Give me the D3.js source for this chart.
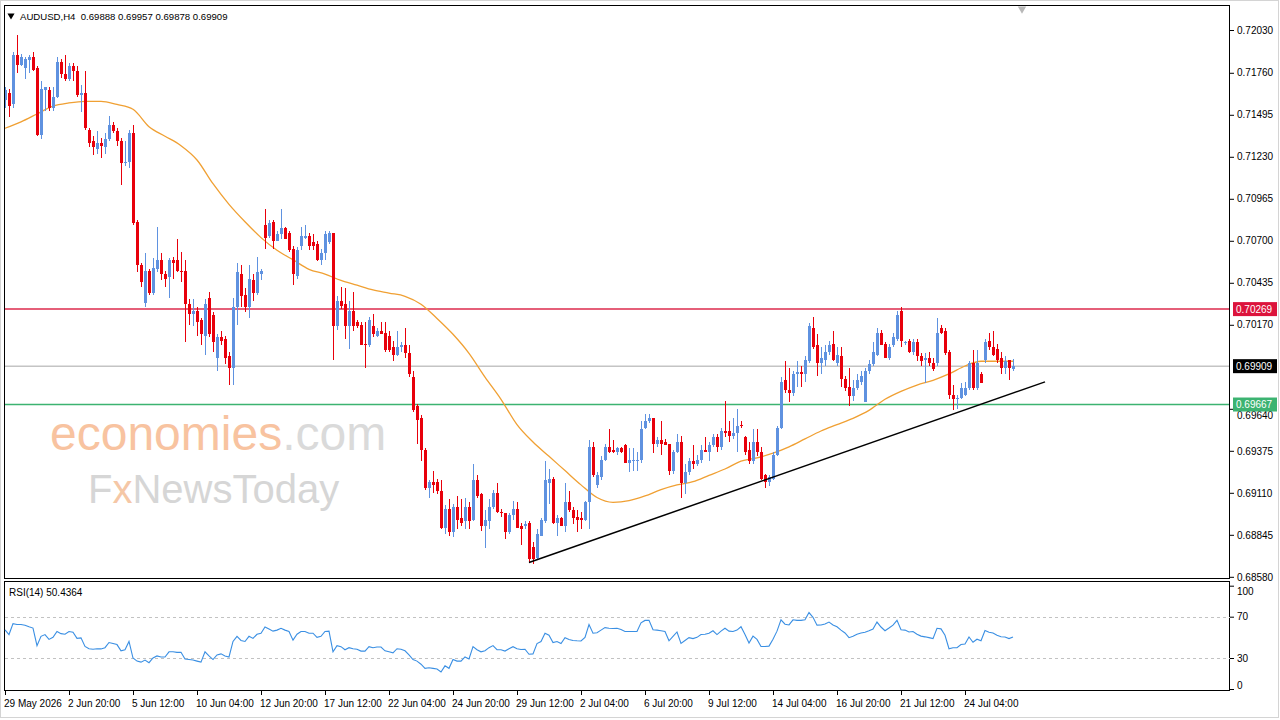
<!DOCTYPE html>
<html><head><meta charset="utf-8">
<script src="https://cdn.jsdelivr.net/npm/d3@7"></script>
<style>
body{margin:0;background:#fff;}
svg text{font-family:"Liberation Sans",Arial,sans-serif;}
</style>
</head><body>
<svg id="chart" width="1280" height="720"></svg>
<script>
// ---------------- DATA ----------------
const symbolName = "AUDUSD,H4";
const headerOHLC = ["0.69888", "0.69957", "0.69878", "0.69909"];

// H4 candles [open, high, low, close], oldest first
const candles = [
[0.7159,0.7167,0.7154,0.7165],[0.7163,0.7166,0.7148,0.7155],[0.7156,0.7189,0.7154,0.7187],[0.7187,0.7200,0.7176,0.7181],
[0.7181,0.7188,0.7180,0.7186],[0.7179,0.7186,0.7172,0.7185],[0.7184,0.7187,0.7176,0.7186],[0.7186,0.7189,0.7177,0.7178],
[0.7179,0.7180,0.7136,0.7137],[0.7137,0.7171,0.7134,0.7166],[0.7165,0.7167,0.7152,0.7167],[0.7165,0.7167,0.7152,0.7154],
[0.7154,0.7167,0.7152,0.7161],[0.7161,0.7186,0.7160,0.7183],[0.7183,0.7185,0.7173,0.7175],[0.7175,0.7187,0.7171,0.7172],
[0.7172,0.7182,0.7171,0.7180],[0.7180,0.7182,0.7171,0.7177],[0.7177,0.7180,0.7161,0.7162],[0.7162,0.7168,0.7151,0.7163],
[0.7163,0.7177,0.7140,0.7141],[0.7140,0.7141,0.7129,0.7132],[0.7133,0.7136,0.7124,0.7129],[0.7128,0.7139,0.7125,0.7132],
[0.7132,0.7135,0.7122,0.7130],[0.7129,0.7138,0.7125,0.7134],[0.7134,0.7149,0.7133,0.7143],[0.7143,0.7145,0.7138,0.7139],
[0.7139,0.7141,0.7130,0.7133],[0.7133,0.7135,0.7105,0.7119],[0.7119,0.7133,0.7117,0.7120],[0.7120,0.7140,0.7116,0.7138],
[0.7138,0.7143,0.7080,0.7081],[0.7082,0.7083,0.7050,0.7055],[0.7055,0.7056,0.7041,0.7044],[0.7031,0.7062,0.7028,0.7051],
[0.7051,0.7052,0.7036,0.7037],[0.7037,0.7059,0.7036,0.7053],[0.7052,0.7079,0.7050,0.7058],[0.7058,0.7062,0.7045,0.7049],
[0.7049,0.7051,0.7041,0.7046],[0.7047,0.7059,0.7034,0.7058],[0.7058,0.7060,0.7046,0.7056],[0.7058,0.7071,0.7050,0.7051],
[0.7051,0.7063,0.7044,0.7050],[0.7051,0.7058,0.7006,0.7030],[0.7030,0.7033,0.7017,0.7024],[0.7024,0.7033,0.7016,0.7026],
[0.7026,0.7028,0.7010,0.7019],[0.7020,0.7021,0.7004,0.7011],[0.7010,0.7033,0.6998,0.7030],[0.7034,0.7038,0.7009,0.7011],
[0.7023,0.7025,0.7000,0.7006],[0.6996,0.7011,0.6988,0.7009],[0.7009,0.7013,0.7004,0.7007],[0.7008,0.7010,0.6992,0.6996],
[0.6997,0.7000,0.6979,0.6990],[0.6990,0.7034,0.6979,0.7028],[0.7028,0.7056,0.7017,0.7050],[0.7049,0.7055,0.7028,0.7035],
[0.7036,0.7040,0.7025,0.7028],[0.7028,0.7055,0.7021,0.7046],[0.7045,0.7049,0.7032,0.7037],[0.7037,0.7060,0.7036,0.7050],
[0.7049,0.7052,0.7045,0.7051],[0.7080,0.7090,0.7065,0.7072],[0.7073,0.7083,0.7072,0.7081],[0.7082,0.7083,0.7065,0.7070],
[0.7070,0.7076,0.7070,0.7074],[0.7074,0.7090,0.7071,0.7078],[0.7078,0.7079,0.7071,0.7071],[0.7075,0.7076,0.7063,0.7064],
[0.7065,0.7067,0.7042,0.7049],[0.7048,0.7066,0.7046,0.7064],[0.7067,0.7079,0.7064,0.7073],[0.7072,0.7080,0.7071,0.7073],
[0.7073,0.7075,0.7064,0.7067],[0.7069,0.7074,0.7064,0.7067],[0.7068,0.7070,0.7057,0.7058],[0.7058,0.7065,0.7055,0.7062],
[0.7062,0.7076,0.7058,0.7074],[0.7069,0.7076,0.7068,0.7075],[0.7075,0.7075,0.6995,0.7016],[0.7016,0.7035,0.7014,0.7032],
[0.7032,0.7041,0.7027,0.7029],[0.7030,0.7040,0.7008,0.7016],[0.7016,0.7032,0.7002,0.7026],[0.7026,0.7038,0.7013,0.7016],
[0.7019,0.7020,0.7015,0.7016],[0.7017,0.7019,0.7004,0.7004],[0.7005,0.7019,0.6990,0.7004],[0.7004,0.7022,0.7003,0.7020],
[0.7016,0.7024,0.7009,0.7011],[0.7010,0.7015,0.7009,0.7013],[0.7013,0.7019,0.7011,0.7011],[0.7012,0.7019,0.7000,0.7001],
[0.7010,0.7013,0.7000,0.7001],[0.7003,0.7007,0.6994,0.6998],[0.6998,0.7013,0.6997,0.7003],[0.7003,0.7006,0.7000,0.7004],
[0.7004,0.7015,0.6996,0.6999],[0.6999,0.7004,0.6984,0.6986],[0.6984,0.6988,0.6962,0.6963],[0.6966,0.6967,0.6942,0.6957],
[0.6958,0.6960,0.6931,0.6938],[0.6938,0.6939,0.6913,0.6914],[0.6914,0.6919,0.6908,0.6918],[0.6918,0.6925,0.6911,0.6916],
[0.6918,0.6920,0.6910,0.6912],[0.6912,0.6919,0.6888,0.6889],[0.6889,0.6903,0.6885,0.6901],[0.6901,0.6907,0.6884,0.6886],
[0.6886,0.6904,0.6883,0.6902],[0.6902,0.6909,0.6888,0.6894],[0.6895,0.6907,0.6890,0.6892],[0.6893,0.6908,0.6888,0.6902],
[0.6902,0.6905,0.6888,0.6893],[0.6894,0.6929,0.6893,0.6919],[0.6919,0.6922,0.6908,0.6909],[0.6910,0.6911,0.6887,0.6890],
[0.6890,0.6900,0.6876,0.6894],[0.6893,0.6907,0.6888,0.6902],[0.6902,0.6913,0.6901,0.6911],[0.6911,0.6917,0.6898,0.6899],
[0.6899,0.6901,0.6896,0.6898],[0.6898,0.6898,0.6882,0.6886],[0.6886,0.6898,0.6885,0.6897],[0.6897,0.6906,0.6894,0.6901],
[0.6901,0.6905,0.6889,0.6889],[0.6890,0.6892,0.6878,0.6888],[0.6890,0.6893,0.6888,0.6891],[0.6892,0.6893,0.6867,0.6869],
[0.6877,0.6880,0.6866,0.6869],[0.6870,0.6888,0.6869,0.6885],[0.6884,0.6895,0.6884,0.6894],[0.6893,0.6931,0.6892,0.6919],
[0.6917,0.6926,0.6904,0.6920],[0.6920,0.6921,0.6891,0.6892],[0.6892,0.6897,0.6884,0.6895],[0.6895,0.6896,0.6890,0.6890],
[0.6890,0.6917,0.6886,0.6905],[0.6905,0.6912,0.6899,0.6900],[0.6900,0.6902,0.6891,0.6895],[0.6896,0.6900,0.6886,0.6894],
[0.6895,0.6899,0.6888,0.6894],[0.6894,0.6906,0.6893,0.6905],[0.6905,0.6944,0.6888,0.6940],[0.6940,0.6943,0.6921,0.6922],
[0.6916,0.6924,0.6914,0.6922],[0.6921,0.6934,0.6919,0.6932],[0.6932,0.6942,0.6931,0.6940],[0.6940,0.6951,0.6936,0.6937],
[0.6938,0.6944,0.6936,0.6937],[0.6937,0.6940,0.6935,0.6939],[0.6939,0.6940,0.6936,0.6937],[0.6941,0.6942,0.6930,0.6930],
[0.6930,0.6939,0.6924,0.6932],[0.6931,0.6939,0.6925,0.6932],[0.6931,0.6937,0.6925,0.6932],[0.6932,0.6956,0.6930,0.6951],
[0.6952,0.6961,0.6951,0.6956],[0.6956,0.6961,0.6955,0.6958],[0.6958,0.6958,0.6936,0.6942],[0.6942,0.6946,0.6940,0.6944],
[0.6944,0.6956,0.6935,0.6942],[0.6943,0.6945,0.6941,0.6941],[0.6942,0.6942,0.6922,0.6925],[0.6925,0.6938,0.6923,0.6937],
[0.6937,0.6948,0.6936,0.6943],[0.6943,0.6947,0.6908,0.6917],[0.6917,0.6929,0.6910,0.6924],[0.6924,0.6933,0.6922,0.6931],
[0.6931,0.6941,0.6926,0.6929],[0.6929,0.6935,0.6928,0.6932],[0.6932,0.6941,0.6930,0.6938],[0.6938,0.6946,0.6937,0.6937],
[0.6937,0.6943,0.6931,0.6941],[0.6941,0.6948,0.6940,0.6946],[0.6946,0.6948,0.6937,0.6940],[0.6940,0.6952,0.6938,0.6950],
[0.6950,0.6969,0.6946,0.6949],[0.6950,0.6956,0.6943,0.6947],[0.6947,0.6958,0.6945,0.6949],[0.6949,0.6964,0.6937,0.6953],
[0.6954,0.6956,0.6952,0.6953],[0.6946,0.6947,0.6935,0.6937],[0.6938,0.6943,0.6929,0.6931],[0.6931,0.6951,0.6929,0.6943],
[0.6943,0.6951,0.6934,0.6937],[0.6937,0.6940,0.6919,0.6920],[0.6922,0.6923,0.6914,0.6918],[0.6918,0.6922,0.6915,0.6921],
[0.6920,0.6937,0.6919,0.6935],[0.6935,0.6953,0.6934,0.6952],[0.6952,0.6984,0.6951,0.6981],[0.6982,0.6994,0.6974,0.6976],
[0.6976,0.6990,0.6968,0.6974],[0.6974,0.6988,0.6972,0.6986],[0.6986,0.6994,0.6978,0.6987],[0.6987,0.6991,0.6978,0.6986],
[0.6986,0.6997,0.6981,0.6995],[0.6994,0.7018,0.6993,0.7016],[0.7015,0.7022,0.7002,0.7003],[0.7004,0.7011,0.6985,0.6993],
[0.6993,0.7003,0.6986,0.6996],[0.6995,0.7004,0.6991,0.7000],[0.7000,0.7007,0.6998,0.7004],[0.7005,0.7013,0.6994,0.6995],
[0.6993,0.7003,0.6991,0.6998],[0.6997,0.7003,0.6978,0.6983],[0.6983,0.6985,0.6975,0.6977],[0.6978,0.6990,0.6966,0.6972],
[0.6972,0.6982,0.6969,0.6977],[0.6977,0.6986,0.6976,0.6982],[0.6981,0.6988,0.6979,0.6985],[0.6968,0.6990,0.6968,0.6988],
[0.6988,0.6995,0.6986,0.6992],[0.6992,0.7006,0.6991,0.7000],[0.6998,0.7015,0.6997,0.7012],[0.7012,0.7014,0.7004,0.7004],
[0.7005,0.7006,0.6996,0.6996],[0.6996,0.7005,0.6995,0.7003],[0.7004,0.7012,0.7003,0.7009],[0.7008,0.7026,0.7007,0.7023],
[0.7026,0.7028,0.7003,0.7007],[0.7006,0.7007,0.7004,0.7006],[0.7007,0.7008,0.6999,0.7000],[0.7000,0.7008,0.6998,0.7006],
[0.7006,0.7008,0.6994,0.6997],[0.6997,0.6999,0.6991,0.6994],[0.6995,0.6999,0.6980,0.6996],[0.6996,0.7000,0.6991,0.6993],
[0.6993,0.6996,0.6988,0.6989],[0.6993,0.7021,0.6991,0.7012],[0.7015,0.7017,0.7011,0.7012],[0.7013,0.7015,0.6998,0.6999],
[0.7000,0.7001,0.6970,0.6973],[0.6973,0.6979,0.6963,0.6970],[0.6970,0.6973,0.6964,0.6971],[0.6971,0.6980,0.6970,0.6977],
[0.6973,0.6981,0.6972,0.6977],[0.6977,0.6994,0.6976,0.6993],[0.6993,0.7001,0.6976,0.6977],[0.6977,0.7001,0.6976,0.6993],
[0.6986,0.6987,0.6980,0.6980],[0.6995,0.7008,0.6993,0.7006],[0.7007,0.7012,0.7001,0.7003],[0.7003,0.7013,0.6997,0.6998],
[0.7002,0.7005,0.6993,0.6995],[0.6996,0.7000,0.6986,0.6990],[0.6990,0.6997,0.6986,0.6994],[0.6995,0.6995,0.6982,0.6990],
[0.69888,0.69957,0.69878,0.69909]
];

// moving average: [bar index, value]
const maPoints = [
[0,0.7141],[4,0.7145],[8,0.7150],[12,0.7155],[16,0.7157],[20,0.7158],[24,0.7158],[28,0.7156],[32,0.7153],[36,0.7142],
[40,0.7136],[44,0.7130],[48,0.7121],[52,0.7106],[56,0.7093],[60,0.7082],[64,0.7072],[68,0.7064],[72,0.7058],[76,0.7052],
[80,0.7049],[84,0.7045],[88,0.7042],[92,0.7039],[96,0.7037],[100,0.7035],[104,0.7030],[108,0.7021],[112,0.7011],[116,0.6999],
[120,0.6984],[124,0.6970],[128,0.6954],[132,0.6943],[136,0.6934],[140,0.6925],[144,0.6916],[148,0.6908],[152,0.6905],[156,0.6906],
[160,0.6909],[164,0.6913],[168,0.6916],[172,0.6918],[176,0.6922],[180,0.6926],[184,0.6931],[188,0.6933],[192,0.6936],[196,0.6940],
[200,0.6945],[204,0.6950],[208,0.6954],[212,0.6958],[216,0.6963],[220,0.6970],[224,0.6975],[228,0.6979],[232,0.6982],[236,0.6986],
[240,0.6991],[244,0.6994],[248,0.6994],[252,0.6994]
];

// RSI(14), one value per bar
const rsiValues = [
57.3,52.7,63.3,62.4,62.4,61.8,60.3,59,42,51,
52.7,48,50,55.7,53.6,53,55.7,55,49,49.5,
41.2,39,38.5,39,38.8,40,45,44,43,37,
38,46,30,27,26,28,25.5,30,32,31,
31,36,36,35.5,35.5,29,28.5,28,27,26,
36,32,28.5,33,34,32,31,46,51,47,
46,51,49,53,54,60,58,56,57,58.8,
57,55.7,47.3,53,55.7,55.7,54,54,50,51,
55.7,56,36,42,41,38,40,39,38.5,36.7,
36.7,41,40,40.6,40.6,37,36,35,39,38.5,
37,33,28.5,27,24,20,20.5,20,19.4,16.4,
22.4,20,28.5,27,27,31,29,41,38,36,
37,40,42,38,38,36.7,39,41,39,38.2,
38.5,33.6,34,44,46,54,52,45,46,44,
49.7,48,47,46.7,46.5,50,62.4,54,54.5,57,
59.4,58.8,58.5,58.8,57.5,55.7,55.7,55.7,55.7,64,
66.4,66.4,57.3,57,56.4,55.7,46.7,51,55.2,44.2,
47,49.7,48.8,50,52.7,53,54,56.4,52.7,56,
58.8,56,55.7,57,60.3,52.7,44.5,51.2,48,41.2,
41.2,41.5,48.2,56,67,62.7,62,67,66.4,66.4,
67,74,69.4,61.8,62,63,64.8,62,60.3,57,
54.2,49.7,51,53,54.2,55,56.4,58,64.8,60,
56.4,59,61.8,66.4,57.3,57,55.2,55.7,53,51.2,
50.5,49.7,48.8,58.8,58.2,52,39,40,40,43,
43.6,50.3,45.2,48.2,46.7,56.7,55,54.2,52,50.6,
50.3,48.8,50.4364
];
const rsiLabel = "RSI(14) 50.4364";

const timeLabels = ["29 May 2026","2 Jun 20:00","5 Jun 12:00","10 Jun 04:00","12 Jun 20:00","17 Jun 12:00",
  "22 Jun 04:00","24 Jun 20:00","29 Jun 12:00","2 Jul 04:00","6 Jul 20:00","9 Jul 12:00",
  "14 Jul 04:00","16 Jul 20:00","21 Jul 12:00","24 Jul 04:00"];
const timeLabelBars = [0,16,32,48,64,80,96,112,128,144,160,176,192,208,224,240];

const priceTicks = [0.72030,0.71760,0.71495,0.71230,0.70965,0.70700,0.70435,0.70170,0.69640,0.69375,0.69110,0.68845,0.68580];
const rsiTicks = [100,70,30,0];
const rsiLevels = [70,30];

const levelValues = [0.70269, 0.69909, 0.69667];   // resistance, current price, support
const trendline = [[131,0.6867],[260,0.6981]];     // rising support line

// ---------------- LAYOUT ----------------
const svg = d3.select("#chart");
const L = 4, R = 1230, mainTop = 5, mainBot = 578, rsiTop = 581, rsiBot = 690;
const COL = {bull:"#5f92e0", bear:"#e8000b", ma:"#f0a033", rsi:"#3a8fe3",
  levels:["#dc2a4c","#c4c4c4","#3cb371"], levelBox:["#dc143c","#000000","#3cb371"]};

const x = d3.scaleLinear().domain([0, 252]).range([5, 1013]);
const y = d3.scaleLinear().domain([0.68580, 0.72030]).range([576.8, 30]);
const ry = d3.scaleLinear().domain([0, 100]).range([689, 585.7]);

// outer frame
svg.append("rect").attr("x",0.5).attr("y",0.5).attr("width",1278).attr("height",717)
  .attr("fill","#fff").attr("stroke","#d4d4d4");

// watermark
const wm = svg.append("g");
const t1 = wm.append("text").attr("x",50).attr("y",450).attr("font-size",48).attr("font-family","'Open Sans','Liberation Sans',sans-serif");
t1.append("tspan").attr("fill","#f8c3a0").text("economies");
t1.append("tspan").attr("fill","#dadada").text(".com");
const t2 = wm.append("text").attr("x",88).attr("y",503).attr("font-size",40).attr("font-family","'Open Sans','Liberation Sans',sans-serif");
t2.append("tspan").attr("fill","#d6d6d6").text("F");
t2.append("tspan").attr("fill","#f5c7a6").text("x");
t2.append("tspan").attr("fill","#d6d6d6").text("NewsToday");

// clip for main chart
svg.append("clipPath").attr("id","mainClip").append("rect")
  .attr("x",L).attr("y",mainTop).attr("width",R-L).attr("height",mainBot-mainTop);
const main = svg.append("g").attr("clip-path","url(#mainClip)");

// level lines
levelValues.forEach((v,k)=>{
  main.append("line").attr("x1",L).attr("x2",R).attr("y1",y(v)).attr("y2",y(v))
    .attr("stroke",COL.levels[k]).attr("stroke-width",1.5);
});

// moving average
main.append("path").datum(maPoints)
  .attr("d", d3.line().x(d=>x(d[0])).y(d=>y(d[1])).curve(d3.curveMonotoneX))
  .attr("fill","none").attr("stroke",COL.ma).attr("stroke-width",1.3);

// candles
const cg = main.append("g").attr("shape-rendering","crispEdges");
const cs = cg.selectAll("g").data(candles).join("g");
cs.append("line")
  .attr("x1",(d,i)=>Math.round(x(i))+0.5).attr("x2",(d,i)=>Math.round(x(i))+0.5)
  .attr("y1",d=>y(d[1])).attr("y2",d=>y(d[2]))
  .attr("stroke",d=>d[3]>=d[0]?COL.bull:COL.bear).attr("stroke-width",1);
cs.append("rect")
  .attr("x",(d,i)=>Math.round(x(i))-1).attr("width",3)
  .attr("y",d=>y(Math.max(d[0],d[3])))
  .attr("height",d=>Math.max(1, Math.abs(y(d[0])-y(d[3]))))
  .attr("fill",d=>d[3]>=d[0]?COL.bull:COL.bear);

// trendline
main.append("line")
  .attr("x1",x(trendline[0][0])).attr("y1",y(trendline[0][1]))
  .attr("x2",x(trendline[1][0])).attr("y2",y(trendline[1][1]))
  .attr("stroke","#000").attr("stroke-width",1.5);

// shift marker triangle
svg.append("path").attr("d",d3.symbol().type(d3.symbolTriangle).size(30)())
  .attr("transform","translate(1022,9) rotate(180)").attr("fill","#b8b8b8");

// main frame
svg.append("rect").attr("x",L+0.5).attr("y",mainTop+0.5).attr("width",R-L-1).attr("height",mainBot-mainTop)
  .attr("fill","none").attr("stroke","#000").attr("stroke-width",1);

// price axis
const pa = svg.append("g").attr("transform",`translate(${R},0)`);
pa.call(d3.axisRight(y).tickValues(priceTicks).tickFormat(d3.format(".5f")).tickSize(4).tickPadding(3));
pa.select(".domain").remove();
pa.selectAll("text").attr("font-size",10).attr("fill","#000").attr("font-family","'Liberation Sans',Arial,sans-serif");
pa.selectAll("line").attr("stroke","#000");
// the 0.69640 label sits partly under the support box, as on the original
pa.selectAll(".tick").filter(d=>d===0.69640).select("text").attr("dy","1.0em");

// level boxes
const boxFmt = d3.format(".5f");
levelValues.forEach((v,k)=>{
  const yy = y(v);
  svg.append("rect").attr("x",R+3).attr("y",yy-7).attr("width",44).attr("height",14).attr("fill",COL.levelBox[k]);
  svg.append("text").attr("x",R+6).attr("y",yy+3.6).attr("font-size",10).attr("fill","#fff").text(boxFmt(v));
});

// header
svg.append("path").attr("d",d3.symbol().type(d3.symbolTriangle).size(22)())
  .attr("transform","translate(11,15.5) rotate(180)").attr("fill","#000");
svg.append("text").attr("x",20).attr("y",19.5).attr("font-size",9.6).attr("fill","#000")
  .text(symbolName + "\u00a0\u00a0" + headerOHLC.join(" "));

// RSI panel
svg.append("rect").attr("x",L+0.5).attr("y",rsiTop+0.5).attr("width",R-L-1).attr("height",rsiBot-rsiTop)
  .attr("fill","#fff").attr("stroke","#000");
rsiLevels.forEach(v=>{
  svg.append("line").attr("x1",L+1).attr("x2",R).attr("y1",Math.round(ry(v))+0.5).attr("y2",Math.round(ry(v))+0.5)
    .attr("stroke","#c2c2c2").attr("stroke-dasharray","3,3");
});
svg.append("path").datum(rsiValues)
  .attr("d", d3.line().x((d,i)=>x(i)).y(d=>ry(d)))
  .attr("fill","none").attr("stroke",COL.rsi).attr("stroke-width",1.1);
svg.append("text").attr("x",9).attr("y",596).attr("font-size",10).attr("fill","#000").text(rsiLabel);

const ra = svg.append("g").attr("transform",`translate(${R},0)`);
ra.call(d3.axisRight(ry).tickValues(rsiTicks).tickFormat(d3.format("d")).tickSize(4).tickPadding(3));
ra.select(".domain").remove();
ra.selectAll("text").attr("font-size",10).attr("fill","#000").attr("font-family","'Liberation Sans',Arial,sans-serif");
ra.selectAll("line").attr("stroke","#000");
ra.selectAll(".tick").filter(d=>d===100).select("text").attr("dy","0.9em");
ra.selectAll(".tick").filter(d=>d===0).select("text").attr("dy","-0.05em");

// time axis
const ta = svg.append("g");
timeLabelBars.forEach((b,k)=>{
  const xx = Math.round(x(b))+0.5;
  ta.append("line").attr("x1",xx).attr("x2",xx).attr("y1",rsiBot).attr("y2",rsiBot+5).attr("stroke","#000");
  ta.append("text").attr("x",x(b)-1).attr("y",707).attr("font-size",10).attr("fill","#000").text(timeLabels[k]);
});
</script>
</body></html>
